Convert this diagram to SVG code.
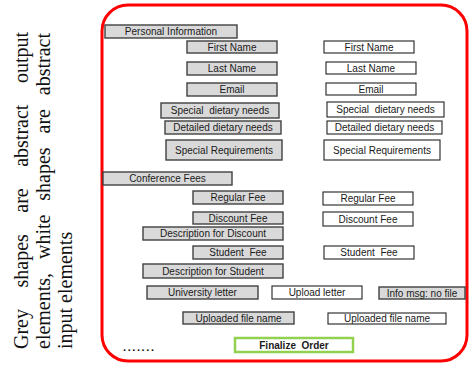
<svg xmlns="http://www.w3.org/2000/svg" width="469" height="365" viewBox="0 0 469 365">
<style>
.side{font-family:"Liberation Serif","Times New Roman",serif;font-size:20px;fill:#111}
.g{fill:#d9d9d9;stroke:#404040;stroke-width:1.4}
.w{fill:#fff;stroke:#222;stroke-width:1.1}
.t{font-family:"Liberation Sans",Arial,sans-serif;font-size:10px;fill:#1a1a1a;text-anchor:middle}
.b{font-weight:bold}
</style>
<rect width="469" height="365" fill="#fff"/>
<g id="caption">
<text class="side" transform="translate(28,349) rotate(-90)"><tspan x="0">Grey</tspan><tspan x="61.5">shapes</tspan><tspan x="136.3">are</tspan><tspan x="182.2">abstract</tspan><tspan x="265.9">output</tspan></text>
<text class="side" transform="translate(50,349) rotate(-90)"><tspan x="0">elements,</tspan><tspan x="90">white</tspan><tspan x="148.3">shapes</tspan><tspan x="215.5">are</tspan><tspan x="253.8">abstract</tspan></text>
<text class="side" transform="translate(72,349) rotate(-90)">input elements</text>
</g>
<g id="frame"><rect x="102" y="5" width="365" height="356" rx="26" fill="none" stroke="#ff0000" stroke-width="3"/></g>
<g id="connectors"></g>
<g id="personal-information"><rect class="g" x="105" y="25" width="132" height="13"/><text class="t" x="171" y="35">Personal Information</text></g>
<g id="out-first-name"><rect class="g" x="187" y="41" width="90" height="12"/><text class="t" x="232" y="50.5">First Name</text></g>
<g id="in-first-name"><rect class="w" x="324" y="41" width="90" height="12"/><text class="t" x="369" y="50.5">First Name</text></g>
<g id="out-last-name"><rect class="g" x="187" y="62" width="90" height="13"/><text class="t" x="232" y="72">Last Name</text></g>
<g id="in-last-name"><rect class="w" x="326" y="62" width="90" height="12"/><text class="t" x="371" y="71.5">Last Name</text></g>
<g id="out-email"><rect class="g" x="187" y="83" width="90" height="13"/><text class="t" x="232" y="93">Email</text></g>
<g id="in-email"><rect class="w" x="326" y="83" width="90" height="12"/><text class="t" x="371" y="92.5">Email</text></g>
<g id="out-special-dietary"><rect class="g" x="161" y="103" width="118" height="15"/><text class="t" x="220" y="114" xml:space="preserve">Special  dietary needs</text></g>
<g id="in-special-dietary"><rect class="w" x="327" y="102" width="117" height="15"/><text class="t" x="385.5" y="113" xml:space="preserve">Special  dietary needs</text></g>
<g id="out-detailed-dietary"><rect class="g" x="165" y="121" width="116" height="13"/><text class="t" x="223" y="131">Detailed dietary needs</text></g>
<g id="in-detailed-dietary"><rect class="w" x="327" y="121" width="115" height="13"/><text class="t" x="384.5" y="131">Detailed dietary needs</text></g>
<g id="out-special-req"><rect class="g" x="166" y="140" width="116" height="20"/><text class="t" x="224" y="153.5">Special Requirements</text></g>
<g id="in-special-req"><rect class="w" x="324" y="140" width="116" height="20"/><text class="t" x="382" y="153.5">Special Requirements</text></g>
<g id="conference-fees"><rect class="g" x="103" y="172" width="129" height="13"/><text class="t" x="167.5" y="182">Conference Fees</text></g>
<g id="out-regular-fee"><rect class="g" x="193" y="191" width="90" height="13"/><text class="t" x="238" y="201">Regular Fee</text></g>
<g id="in-regular-fee"><rect class="w" x="323" y="192" width="90" height="13"/><text class="t" x="368" y="202">Regular Fee</text></g>
<g id="out-discount-fee"><rect class="g" x="193" y="212" width="90" height="12"/><text class="t" x="238" y="221.5">Discount Fee</text></g>
<g id="in-discount-fee"><rect class="w" x="323" y="212" width="90" height="14"/><text class="t" x="368" y="222.5">Discount Fee</text></g>
<g id="out-desc-discount"><rect class="g" x="143" y="227" width="140" height="13"/><text class="t" x="213" y="237">Description for Discount</text></g>
<g id="out-student-fee"><rect class="g" x="193" y="246" width="90" height="13"/><text class="t" x="238" y="256" xml:space="preserve">Student  Fee</text></g>
<g id="in-student-fee"><rect class="w" x="324" y="246" width="90" height="13"/><text class="t" x="369" y="256" xml:space="preserve">Student  Fee</text></g>
<g id="out-desc-student"><rect class="g" x="143" y="264" width="140" height="14"/><text class="t" x="213" y="274.5">Description for Student</text></g>
<g id="out-university-letter"><rect class="g" x="147" y="286" width="111" height="13"/><text class="t" x="202.5" y="296">University letter</text></g>
<g id="in-upload-letter"><rect class="w" x="272" y="286" width="90" height="13"/><text class="t" x="317" y="296">Upload letter</text></g>
<g id="out-info-msg"><rect class="g" x="379" y="287" width="86" height="12"/><text class="t" x="422" y="296.5">Info msg: no file</text></g>
<g id="out-uploaded-file"><rect class="g" x="183" y="312" width="111" height="12"/><text class="t" x="238.5" y="321.5">Uploaded file name</text></g>
<g id="in-uploaded-file"><rect class="w" x="328" y="313" width="118" height="11"/><text class="t" x="387" y="322">Uploaded file name</text></g>
<g id="finalize-order"><rect x="235" y="338" width="118" height="14" fill="#fff" stroke="#92d050" stroke-width="2.5"/><text class="t b" x="294" y="348.5" xml:space="preserve">Finalize  Order</text></g>
<g id="ellipsis"><text x="123" y="351" font-family="Liberation Sans,Arial,sans-serif" font-size="11" font-weight="bold" letter-spacing="1.6" fill="#111">.......</text></g>
</svg>
